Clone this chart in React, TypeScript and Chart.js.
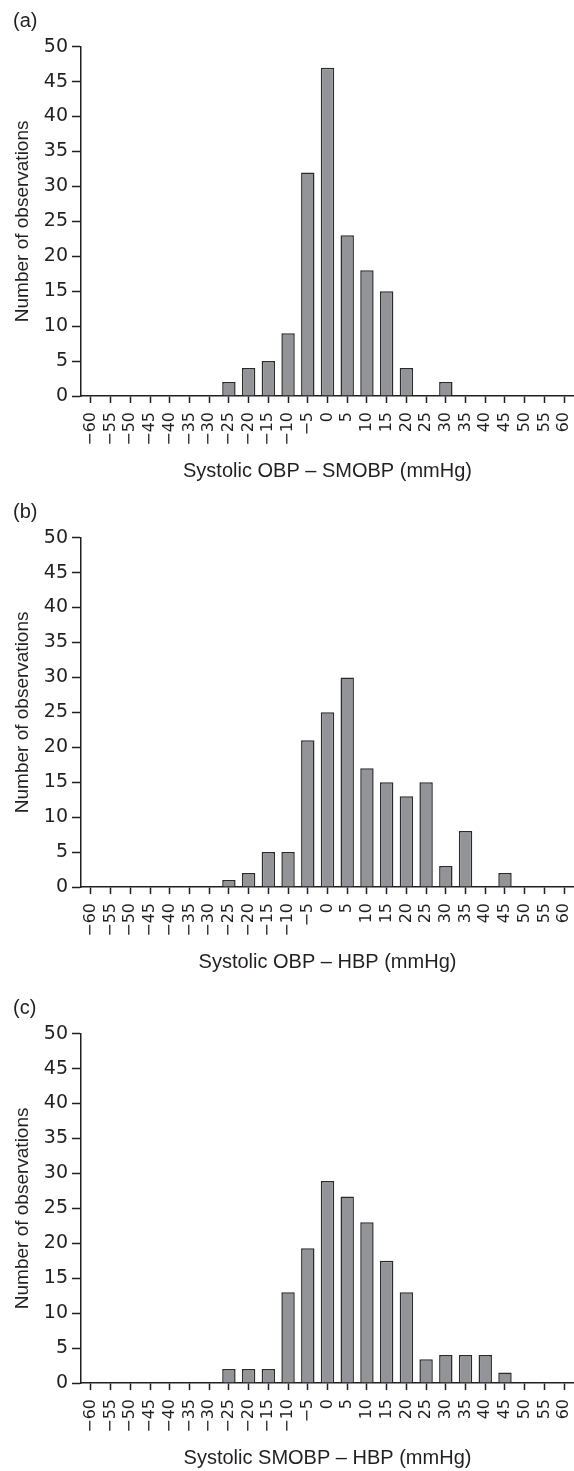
import React, { useEffect, useRef } from "react";
import { Chart, registerables } from "chart.js";
Chart.register(...registerables);

// Bin centres (mmHg) used as tick labels
const binLabels = [
  "−60", "−55", "−50", "−45", "−40", "−35", "−30", "−25", "−20", "−15", "−10", "−5",
  "0", "5", "10", "15", "20", "25", "30", "35", "40", "45", "50", "55", "60",
];

// (a) Systolic OBP – SMOBP
const countsA = [0, 0, 0, 0, 0, 0, 0, 2, 4, 5, 9, 32, 47, 23, 18, 15, 4, 0, 2, 0, 0, 0, 0, 0, 0];
// (b) Systolic OBP – HBP
const countsB = [0, 0, 0, 0, 0, 0, 0, 1, 2, 5, 5, 21, 25, 30, 17, 15, 13, 15, 3, 8, 0, 2, 0, 0, 0];
// (c) Systolic SMOBP – HBP
const countsC = [0, 0, 0, 0, 0, 0, 0, 2, 2, 2, 13, 19.3, 28.9, 26.7, 23, 17.5, 13, 3.4, 4, 4, 4, 1.5, 0, 0, 0];

const panelLabels = ["(a)", "(b)", "(c)"];
const xTitles = [
  "Systolic OBP – SMOBP (mmHg)",
  "Systolic OBP – HBP (mmHg)",
  "Systolic SMOBP – HBP (mmHg)",
];
const yTitle = "Number of observations";

const INK = "#231f20";
const W = 574;
const H = 484;

function Panel({ label, xTitle, counts, top }: { label: string; xTitle: string; counts: number[]; top: number }) {
  const ref = useRef<HTMLCanvasElement>(null);
  useEffect(() => {
    const chart = new Chart(ref.current as HTMLCanvasElement, {
      type: "bar",
      data: {
        labels: binLabels,
        datasets: [
          {
            data: counts,
            backgroundColor: "#939498",
            borderColor: "#2a2a2a",
            borderWidth: 1.5,
            barPercentage: 0.68,
            categoryPercentage: 1,
          },
        ],
      },
      options: {
        animation: false,
        responsive: false,
        devicePixelRatio: 1,
        layout: { padding: { left: 13, right: 0, top: 0, bottom: 0 } },
        plugins: {
          legend: { display: false },
          tooltip: { enabled: false },
          title: {
            display: true,
            text: label,
            align: "start",
            color: INK,
            font: { family: "Liberation Sans", size: 20, weight: "normal", lineHeight: 1.2 },
            padding: { top: 9, bottom: 13.7 },
          },
        },
        scales: {
          x: {
            type: "category",
            offset: true,
            grid: {
              display: true,
              drawOnChartArea: false,
              drawTicks: true,
              tickLength: 7,
              tickWidth: 1.5,
              tickColor: INK,
              offset: false,
            },
            border: { display: true, color: INK, width: 1.5 },
            ticks: {
              autoSkip: false,
              maxRotation: 90,
              minRotation: 90,
              padding: 9,
              color: INK,
              font: { family: "DejaVu Sans", size: 16 },
            },
            title: {
              display: true,
              text: xTitle,
              color: INK,
              font: { family: "Liberation Sans", size: 20, lineHeight: 1.2 },
              padding: { top: 0, bottom: 1 },
            },
            afterFit: (s: any) => {
              s.height = H - 396;
              s.paddingLeft = 0;
              s.paddingRight = 0;
            },
          },
          y: {
            min: 0,
            max: 50,
            ticks: {
              stepSize: 5,
              padding: 4,
              color: INK,
              font: { family: "DejaVu Sans", size: 19 },
            },
            grid: {
              display: true,
              drawOnChartArea: false,
              drawTicks: true,
              tickLength: 9,
              tickWidth: 1.5,
              tickColor: INK,
            },
            border: { display: true, color: INK, width: 1.5 },
            title: {
              display: true,
              text: yTitle,
              color: INK,
              font: { family: "Liberation Sans", size: 19, lineHeight: 1 },
              padding: { top: 0.5, bottom: 0 },
            },
            afterFit: (s: any) => {
              s.width = 68;
            },
          },
        },
      } as any,
    });
    return () => chart.destroy();
  }, [label, xTitle, counts]);
  return (
    <canvas
      ref={ref}
      width={W}
      height={H}
      style={{ position: "absolute", left: 0, top, width: W, height: H }}
    />
  );
}

export default function App() {
  useEffect(() => {
    document.body.style.margin = "0";
    document.body.style.background = "#ffffff";
  }, []);
  const tops = [0, 490.6, 986.6];
  const all = [countsA, countsB, countsC];
  return (
    <div style={{ position: "relative", width: W, height: 1471, overflow: "hidden", background: "#fff" }}>
      {panelLabels.map((p, i) => (
        <Panel key={p} label={p} xTitle={xTitles[i]} counts={all[i]} top={tops[i]} />
      ))}
    </div>
  );
}
